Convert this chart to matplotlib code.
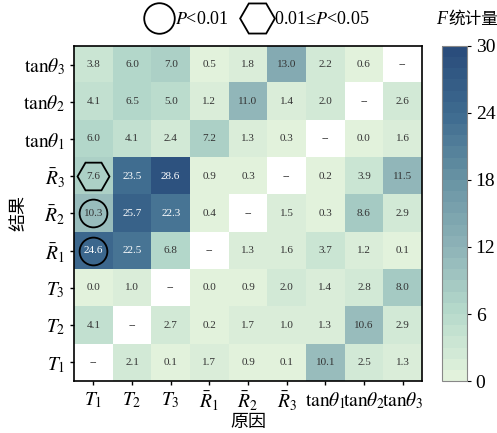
import numpy as np
import matplotlib
matplotlib.use('Agg')
import matplotlib.pyplot as plt
from matplotlib.colors import LinearSegmentedColormap
from matplotlib.lines import Line2D

plt.rcParams['font.family'] = ['Liberation Serif', 'Noto Sans CJK SC', 'DejaVu Sans']
plt.rcParams['mathtext.fontset'] = 'stix'

# causes (columns) and results (rows, top to bottom)
causes = [r'$T_1$', r'$T_2$', r'$T_3$', r'$\bar{R}_1$', r'$\bar{R}_2$', r'$\bar{R}_3$',
          r'$\mathrm{tan}\theta_1$', r'$\mathrm{tan}\theta_2$', r'$\mathrm{tan}\theta_3$']
results = [r'$\mathrm{tan}\theta_3$', r'$\mathrm{tan}\theta_2$', r'$\mathrm{tan}\theta_1$',
           r'$\bar{R}_3$', r'$\bar{R}_2$', r'$\bar{R}_1$', r'$T_3$', r'$T_2$', r'$T_1$']

nan = np.nan
F = np.array([
    [3.8, 6.0, 7.0, 0.5, 1.8, 13.0, 2.2, 0.6, nan],
    [4.1, 6.5, 5.0, 1.2, 11.0, 1.4, 2.0, nan, 2.6],
    [6.0, 4.1, 2.4, 7.2, 1.3, 0.3, nan, 0.0, 1.6],
    [7.6, 23.5, 28.6, 0.9, 0.3, nan, 0.2, 3.9, 11.5],
    [10.3, 25.7, 22.3, 0.4, nan, 1.5, 0.3, 8.6, 2.9],
    [24.6, 22.5, 6.8, nan, 1.3, 1.6, 3.7, 1.2, 0.1],
    [0.0, 1.0, nan, 0.0, 0.9, 2.0, 1.4, 2.8, 8.0],
    [4.1, nan, 2.7, 0.2, 1.7, 1.0, 1.3, 10.6, 2.9],
    [nan, 2.1, 0.1, 1.7, 0.9, 0.1, 10.1, 2.5, 1.3],
])

# significant cells: (row, col)
sig_01 = [(4, 0), (5, 0)]
sig_05 = [(3, 0)]

cmap = LinearSegmentedColormap.from_list(
    'fstat', ['#e2f2dc', '#b5d9cb', '#8db2b7', '#6994a4', '#3f6c90', '#2a4d7c'], N=30)
cmap.set_bad('white')

fig = plt.figure(figsize=(4.97, 4.33), dpi=100)
ax = fig.add_axes([0.149, 0.120, 0.700, 0.774])
cax = fig.add_axes([0.889, 0.120, 0.050, 0.774])

im = ax.imshow(np.ma.masked_invalid(F), cmap=cmap, vmin=0, vmax=30, aspect='auto')

for i in range(F.shape[0]):
    for j in range(F.shape[1]):
        v = F[i, j]
        if np.isnan(v):
            s, c = '--', '#333333'
        else:
            s = f'{v:.1f}'
            c = 'white' if v > 20 else '#333333'
        ax.text(j, i, s, ha='center', va='center', fontsize=8, color=c)

for i, j in sig_01:
    ax.plot(j, i, marker='o', ms=20, mfc='none', mec='black', mew=1.3)
for i, j in sig_05:
    ax.plot(j, i, marker='H', ms=23, mfc='none', mec='black', mew=1.3)

ax.set_xticks(range(len(causes)))
ax.set_xticklabels(causes, fontsize=14)
ax.set_yticks(range(len(results)))
ax.set_yticklabels(results, fontsize=14)
ax.tick_params(length=3, width=1)
for sp in ax.spines.values():
    sp.set_linewidth(1.2)

ax.set_xlabel('原因', fontsize=13, family=['Noto Sans CJK SC'], labelpad=0)
ax.set_ylabel('结果', fontsize=13, family=['Noto Sans CJK SC'])
ax.yaxis.set_label_coords(-0.135, 0.5)

cb = fig.colorbar(im, cax=cax, ticks=[0, 6, 12, 18, 24, 30])
cb.ax.tick_params(labelsize=14, length=3)
cb.outline.set_edgecolor('#888888')
fig.text(0.878, 0.955, 'F', ha='left', va='center', fontsize=13, style='italic')
fig.text(0.902, 0.955, '统计量', ha='left', va='center', fontsize=12, family=['Noto Sans CJK SC'])

handles = [Line2D([], [], ls='none', marker='o', ms=22, mfc='none', mec='black', mew=1.3),
           Line2D([], [], ls='none', marker='H', ms=25, mfc='none', mec='black', mew=1.3)]
fig.legend(handles, [r'$P$<0.01', r'0.01≤$P$<0.05'], loc='center', bbox_to_anchor=(0.52, 0.955),
           ncol=2, frameon=False, fontsize=13, handlelength=1.2, handletextpad=0.3, columnspacing=1.0)

fig.savefig('out.png', dpi=100)
